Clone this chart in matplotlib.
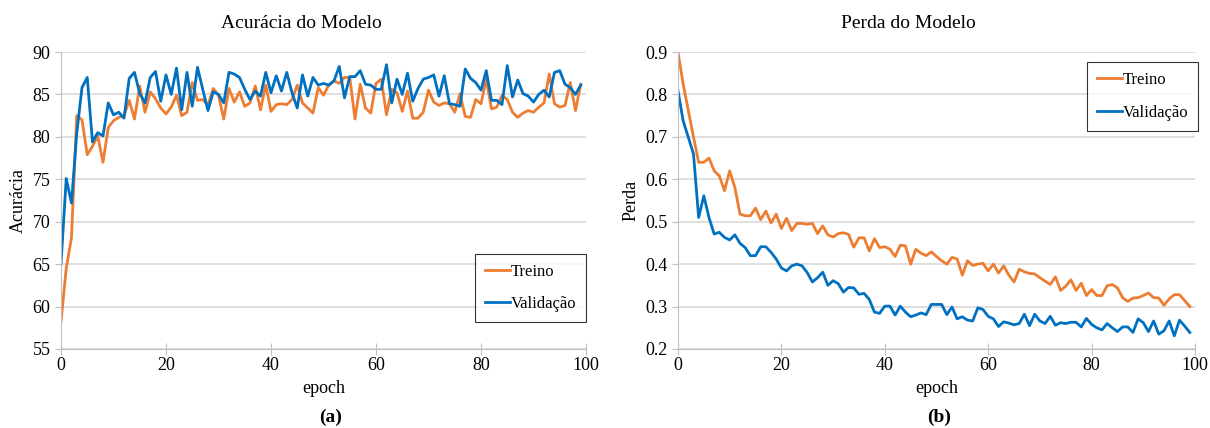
import matplotlib
matplotlib.use("Agg")
import matplotlib.pyplot as plt
import numpy as np

# acuracia (%) por epoca
acc_treino = [58.2, 64.5, 68.1, 82.5, 82.0, 77.9, 78.9, 80.1, 77.0, 81.1,
              81.9, 82.3, 82.5, 84.3, 82.1, 86.0, 82.9, 85.3, 84.5, 83.4,
              82.7, 83.5, 84.9, 82.5, 82.9, 86.4, 84.3, 84.4, 83.7, 85.7,
              84.9, 82.1, 85.7, 84.1, 85.3, 83.6, 84.0, 86.0, 83.2, 86.1,
              83.0, 83.8, 83.9, 83.8, 84.4, 86.1, 84.0, 83.4, 82.8, 85.8,
              84.9, 86.1, 86.6, 86.3, 87.0, 87.0, 82.1, 86.2, 83.4, 82.8,
              86.3, 86.8, 82.6, 85.6, 85.2, 83.0, 85.4, 82.2, 82.2, 82.9,
              85.5, 84.1, 83.7, 84.0, 83.9, 82.9, 85.1, 82.4, 82.3, 84.4,
              83.9, 86.8, 83.3, 83.5, 84.9, 84.4, 82.9, 82.3, 82.8, 83.1,
              82.9, 83.5, 84.0, 87.4, 83.9, 83.5, 83.7, 86.4, 83.1, 86.2]
acc_validacao = [65.0, 75.1, 72.2, 80.4, 85.8, 87.0, 79.4, 80.5, 80.1, 84.0,
                 82.6, 82.9, 82.2, 86.9, 87.6, 85.1, 84.0, 87.0, 87.7, 84.2,
                 87.3, 85.0, 88.1, 83.2, 87.6, 83.6, 88.2, 85.6, 83.1, 85.3,
                 85.0, 84.0, 87.6, 87.4, 87.0, 85.6, 84.4, 85.4, 84.8, 87.6,
                 85.2, 87.2, 85.4, 87.6, 85.2, 83.4, 87.3, 84.8, 87.0, 86.1,
                 86.3, 86.1, 86.6, 88.3, 84.6, 87.1, 87.1, 87.8, 86.2, 86.1,
                 85.6, 85.6, 88.5, 84.0, 86.8, 85.0, 87.5, 84.2, 85.7, 86.8,
                 87.0, 87.3, 84.8, 87.2, 83.9, 83.8, 83.6, 88.0, 86.9, 86.4,
                 85.5, 87.8, 84.3, 84.3, 83.8, 88.4, 84.7, 86.7, 85.1, 84.8,
                 84.1, 85.0, 85.5, 84.7, 87.6, 87.8, 86.2, 85.8, 85.0, 86.1]

# perda por epoca
perda_treino = [0.900, 0.825, 0.762, 0.700, 0.640, 0.640, 0.650, 0.620, 0.608, 0.573,
                0.620, 0.581, 0.518, 0.514, 0.514, 0.532, 0.505, 0.525, 0.497, 0.518,
                0.484, 0.508, 0.479, 0.496, 0.496, 0.494, 0.496, 0.472, 0.490, 0.469,
                0.464, 0.472, 0.474, 0.470, 0.440, 0.462, 0.462, 0.431, 0.460, 0.439,
                0.441, 0.435, 0.418, 0.445, 0.443, 0.400, 0.435, 0.426, 0.420, 0.429,
                0.418, 0.408, 0.400, 0.416, 0.412, 0.374, 0.408, 0.397, 0.400, 0.402,
                0.384, 0.400, 0.379, 0.396, 0.374, 0.358, 0.388, 0.382, 0.378, 0.377,
                0.368, 0.360, 0.352, 0.370, 0.338, 0.348, 0.363, 0.338, 0.355, 0.326,
                0.340, 0.326, 0.326, 0.349, 0.352, 0.344, 0.321, 0.312, 0.320, 0.321,
                0.326, 0.332, 0.321, 0.320, 0.303, 0.318, 0.328, 0.328, 0.314, 0.300]
perda_validacao = [0.809, 0.738, 0.699, 0.660, 0.510, 0.561, 0.510, 0.471, 0.475, 0.463,
                   0.457, 0.469, 0.449, 0.439, 0.420, 0.420, 0.441, 0.441, 0.428, 0.412,
                   0.391, 0.384, 0.396, 0.400, 0.396, 0.380, 0.358, 0.368, 0.381, 0.350,
                   0.361, 0.354, 0.334, 0.345, 0.344, 0.329, 0.331, 0.317, 0.287, 0.284,
                   0.301, 0.301, 0.280, 0.301, 0.287, 0.276, 0.280, 0.285, 0.281, 0.305,
                   0.305, 0.305, 0.281, 0.299, 0.271, 0.276, 0.268, 0.266, 0.297, 0.293,
                   0.277, 0.271, 0.253, 0.264, 0.261, 0.257, 0.260, 0.282, 0.255, 0.282,
                   0.266, 0.260, 0.277, 0.256, 0.262, 0.260, 0.263, 0.263, 0.252, 0.272,
                   0.258, 0.250, 0.245, 0.260, 0.250, 0.241, 0.252, 0.252, 0.239, 0.271,
                   0.262, 0.241, 0.266, 0.235, 0.243, 0.266, 0.231, 0.268, 0.254, 0.239]

epocas = np.arange(len(acc_treino))

laranja = "#ED7D31"
azul = "#0070C0"
cinza = "#D9D9D9"

plt.rcParams["font.family"] = ["Liberation Serif", "DejaVu Serif"]

fig = plt.figure(figsize=(12.1, 4.28), dpi=100)
ax1 = fig.add_axes([0.0504, 0.1846, 0.4339, 0.6939])
ax2 = fig.add_axes([0.5603, 0.1846, 0.4273, 0.6939])


def estilo(ax):
    for lado in ["top", "right"]:
        ax.spines[lado].set_visible(False)
    ax.spines["left"].set_color("#BFBFBF")
    ax.spines["bottom"].set_color("#BFBFBF")
    ax.grid(axis="y", color=cinza, linewidth=1.2)
    ax.set_axisbelow(True)
    ax.tick_params(axis="x", direction="inout", length=8, color="#BFBFBF", labelsize=13, pad=2)
    ax.tick_params(axis="y", direction="out", length=4, color="#BFBFBF", labelsize=13)
    ax.set_xlim(0, 100)
    ax.set_xticks(range(0, 101, 20))
    ax.set_xlabel("epoch", fontsize=13, labelpad=4)


def legenda(ax, **kw):
    leg = ax.legend(fontsize=12, fancybox=False, edgecolor="black", handlelength=1.5,
                    handletextpad=0.05, labelspacing=1.0, borderpad=0.6,
                    borderaxespad=0.0, **kw)
    leg.get_frame().set_linewidth(0.8)
    return leg


ax1.plot(epocas, acc_treino, color=laranja, lw=2.0, label="Treino")
ax1.plot(epocas, acc_validacao, color=azul, lw=2.0, label="Validação")
estilo(ax1)
ax1.set_ylim(55, 90)
ax1.set_yticks(range(55, 91, 5))
ax1.set_ylabel("Acurácia", fontsize=13, labelpad=4)
ax1.set_title("Acurácia do Modelo", fontsize=14, pad=17, x=0.457)
legenda(ax1, loc="lower right", bbox_to_anchor=(1.0, 0.09))

ax2.plot(epocas, perda_treino, color=laranja, lw=2.0, label="Treino")
ax2.plot(epocas, perda_validacao, color=azul, lw=2.0, label="Validação")
estilo(ax2)
ax2.set_ylim(0.2, 0.9)
ax2.set_yticks(np.arange(0.2, 0.91, 0.1))
ax2.set_yticklabels(["0.2", "0.3", "0.4", "0.5", "0.6", "0.7", "0.8", "0.9"])
ax2.set_ylabel("Perda", fontsize=13, labelpad=4)
ax2.set_title("Perda do Modelo", fontsize=14, pad=17, x=0.445)
legenda(ax2, loc="upper right", bbox_to_anchor=(1.006, 0.966))

fig.text(0.273, 0.015, "(a)", ha="center", fontsize=14, fontweight="bold")
fig.text(0.776, 0.015, "(b)", ha="center", fontsize=14, fontweight="bold")

fig.savefig("out.png", dpi=100)
